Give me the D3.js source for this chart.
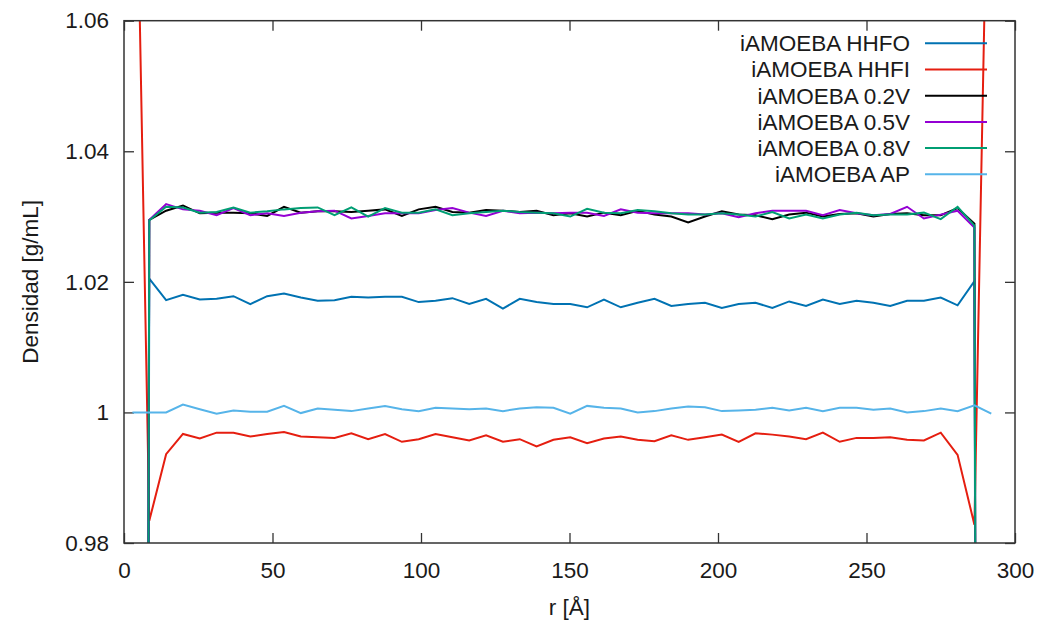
<!DOCTYPE html>
<html><head><meta charset="utf-8">
<script src="https://cdn.jsdelivr.net/npm/d3@7/dist/d3.min.js"></script>
<style>
body{margin:0;background:#fff;}
text{font-family:"Liberation Sans",Arial,Helvetica,sans-serif;fill:#1a1a1a;}
</style></head>
<body>
<svg id="chart" width="1037" height="623"></svg>
<script>
const r = [2.84, 8.51, 14.18, 19.85, 25.52, 31.19, 36.86, 42.53, 48.20, 53.87, 59.54, 65.21, 70.88, 76.55, 82.22, 87.89, 93.56, 99.23, 104.90, 110.57, 116.24, 121.91, 127.58, 133.25, 138.92, 144.59, 150.26, 155.93, 161.60, 167.27, 172.94, 178.61, 184.28, 189.95, 195.62, 201.29, 206.96, 212.63, 218.30, 223.97, 229.64, 235.31, 240.98, 246.65, 252.32, 257.99, 263.66, 269.33, 275.00, 280.67, 286.34, 292.01];

const hhfo = [0, 1.0205, 1.0172, 1.0180, 1.0173, 1.0174, 1.0178, 1.0166, 1.0178, 1.0182, 1.0176, 1.0171, 1.0172, 1.0177, 1.0176, 1.0177, 1.0177, 1.0169, 1.0171, 1.0175, 1.0166, 1.0174, 1.0159, 1.0174, 1.0169, 1.0166, 1.0166, 1.0161, 1.0173, 1.0161, 1.0168, 1.0174, 1.0163, 1.0166, 1.0168, 1.0160, 1.0166, 1.0168, 1.0160, 1.0170, 1.0163, 1.0173, 1.0166, 1.0171, 1.0168, 1.0163, 1.0171, 1.0171, 1.0176, 1.0164, 1.0201, 0];
const hhfi = [1.12, 0.9834, 0.9936, 0.9967, 0.9960, 0.9969, 0.9969, 0.9963, 0.9967, 0.9970, 0.9963, 0.9962, 0.9961, 0.9968, 0.9959, 0.9967, 0.9955, 0.9959, 0.9967, 0.9962, 0.9957, 0.9965, 0.9955, 0.9959, 0.9948, 0.9958, 0.9962, 0.9953, 0.9960, 0.9963, 0.9958, 0.9956, 0.9965, 0.9958, 0.9962, 0.9966, 0.9955, 0.9968, 0.9966, 0.9963, 0.9959, 0.9969, 0.9955, 0.9961, 0.9961, 0.9962, 0.9958, 0.9957, 0.9969, 0.9935, 0.9828, 1.115];
const v02 = [0, 1.0295, 1.0309, 1.0317, 1.0305, 1.0306, 1.0306, 1.0305, 1.0301, 1.0315, 1.0306, 1.0308, 1.0308, 1.0307, 1.0309, 1.0311, 1.0301, 1.0311, 1.0315, 1.0307, 1.0306, 1.0310, 1.0309, 1.0307, 1.0309, 1.0302, 1.0305, 1.0300, 1.0306, 1.0302, 1.0309, 1.0303, 1.0300, 1.0291, 1.0300, 1.0308, 1.0303, 1.0302, 1.0296, 1.0303, 1.0306, 1.0300, 1.0304, 1.0305, 1.0300, 1.0304, 1.0305, 1.0302, 1.0302, 1.0313, 1.0289, 0];
const v05 = [0, 1.0295, 1.0319, 1.0311, 1.0309, 1.0302, 1.0313, 1.0302, 1.0305, 1.0301, 1.0306, 1.0308, 1.0309, 1.0297, 1.0301, 1.0305, 1.0305, 1.0305, 1.0310, 1.0313, 1.0306, 1.0301, 1.0309, 1.0305, 1.0306, 1.0305, 1.0306, 1.0306, 1.0301, 1.0311, 1.0306, 1.0305, 1.0305, 1.0305, 1.0303, 1.0305, 1.0299, 1.0305, 1.0309, 1.0309, 1.0309, 1.0302, 1.0310, 1.0305, 1.0302, 1.0304, 1.0315, 1.0297, 1.0303, 1.0309, 1.0283, 0];
const v08 = [0, 1.0294, 1.0315, 1.0314, 1.0306, 1.0307, 1.0314, 1.0306, 1.0308, 1.0311, 1.0313, 1.0314, 1.0302, 1.0314, 1.0300, 1.0313, 1.0306, 1.0306, 1.0311, 1.0302, 1.0305, 1.0307, 1.0309, 1.0307, 1.0306, 1.0305, 1.0300, 1.0312, 1.0306, 1.0305, 1.0310, 1.0308, 1.0305, 1.0303, 1.0303, 1.0305, 1.0303, 1.0300, 1.0307, 1.0297, 1.0303, 1.0297, 1.0303, 1.0306, 1.0302, 1.0303, 1.0303, 1.0306, 1.0296, 1.0315, 1.0286, 0];
const ap = [1.0000, 1.0000, 1.0000, 1.0012, 1.0005, 0.9998, 1.0003, 1.0001, 1.0001, 1.0010, 0.9999, 1.0006, 1.0004, 1.0002, 1.0006, 1.0010, 1.0005, 1.0002, 1.0007, 1.0006, 1.0005, 1.0006, 1.0002, 1.0006, 1.0008, 1.0007, 0.9998, 1.0010, 1.0007, 1.0006, 1.0000, 1.0002, 1.0006, 1.0009, 1.0008, 1.0002, 1.0003, 1.0004, 1.0007, 1.0003, 1.0007, 1.0002, 1.0007, 1.0007, 1.0004, 1.0006, 1.0000, 1.0002, 1.0006, 1.0002, 1.0011, 0.9998];

const seriesNames = ["iAMOEBA HHFO", "iAMOEBA HHFI", "iAMOEBA 0.2V", "iAMOEBA 0.5V", "iAMOEBA 0.8V", "iAMOEBA AP"];
const seriesValues = [hhfo, hhfi, v02, v05, v08, ap];
const seriesColors = ["#0072b2", "#e51e10", "#000000", "#9400d3", "#009e73", "#56b4e9"];

const xTicks = [0, 50, 100, 150, 200, 250, 300];
const yTicks = [0.98, 1.00, 1.02, 1.04, 1.06];
const yTickLabels = ["0.98", "1", "1.02", "1.04", "1.06"];

const W = 1037, H = 623;
const m = {left: 124, right: 22, top: 20.7, bottom: 80};
const FS = "22.5px";
const svg = d3.select("#chart");
const x = d3.scaleLinear().domain([0, 300]).range([m.left, W - m.right]);
const y = d3.scaleLinear().domain([0.98, 1.06]).range([H - m.bottom, m.top]);

svg.append("defs").append("clipPath").attr("id", "clip")
  .append("rect").attr("x", x(0)).attr("y", y(1.06))
  .attr("width", x(300) - x(0)).attr("height", y(0.98) - y(1.06));

const tickLen = 10;
const axisColor = "#333";
const gB = svg.append("g").attr("transform", `translate(0,${y(0.98)})`)
  .call(d3.axisBottom(x).tickValues(xTicks).tickSizeInner(-tickLen).tickSizeOuter(0).tickPadding(19).tickFormat(d3.format("d")));
const gT = svg.append("g").attr("transform", `translate(0,${y(1.06)})`)
  .call(d3.axisTop(x).tickValues(xTicks).tickSizeInner(-tickLen).tickSizeOuter(0).tickFormat(""));
const gL = svg.append("g").attr("transform", `translate(${x(0)},0)`)
  .call(d3.axisLeft(y).tickValues(yTicks).tickSizeInner(-tickLen).tickSizeOuter(0).tickPadding(15)
    .tickFormat((d, i) => yTickLabels[i]));
const gR = svg.append("g").attr("transform", `translate(${x(300)},0)`)
  .call(d3.axisRight(y).tickValues(yTicks).tickSizeInner(-tickLen).tickSizeOuter(0).tickFormat(""));
[gB, gT, gL, gR].forEach(g => {
  g.select(".domain").remove();
  g.selectAll(".tick line").attr("stroke", axisColor).attr("stroke-width", 1.3);
  g.selectAll(".tick text").style("font-size", FS).attr("fill", "#1a1a1a")
    .style("font-family", '"Liberation Sans", Arial, sans-serif');
});
gB.selectAll(".tick text").attr("dy", "0.71em");

const line = d3.line().x((d, i) => x(r[i])).y(d => y(d));
const plot = svg.append("g").attr("clip-path", "url(#clip)");
seriesValues.forEach((vals, si) => {
  plot.append("path").datum(vals)
    .attr("fill", "none").attr("stroke", seriesColors[si])
    .attr("stroke-width", 2).attr("stroke-linejoin", "miter")
    .attr("d", line);
});

svg.append("rect").attr("x", x(0)).attr("y", y(1.06))
  .attr("width", x(300) - x(0)).attr("height", y(0.98) - y(1.06))
  .attr("fill", "none").attr("stroke", axisColor).attr("stroke-width", 1.5);

const lg = svg.append("g");
seriesNames.forEach((name, i) => {
  const ly = 43.3 + i * 26.2;
  lg.append("text").attr("x", 910).attr("y", ly).attr("dy", "0.35em")
    .attr("text-anchor", "end").style("font-size", FS).text(name);
  lg.append("line").attr("x1", 925).attr("x2", 987).attr("y1", ly).attr("y2", ly)
    .attr("stroke", seriesColors[i]).attr("stroke-width", 2);
});

svg.append("text").attr("x", (x(0) + x(300)) / 2).attr("y", 607).attr("dy", "0.35em")
  .attr("text-anchor", "middle").style("font-size", FS).text("r [Å]");
svg.append("text").attr("transform", `translate(30,${(y(0.98) + y(1.06)) / 2}) rotate(-90)`)
  .attr("dy", "0.35em").attr("text-anchor", "middle").style("font-size", FS).text("Densidad [g/mL]");
</script>
</body></html>
